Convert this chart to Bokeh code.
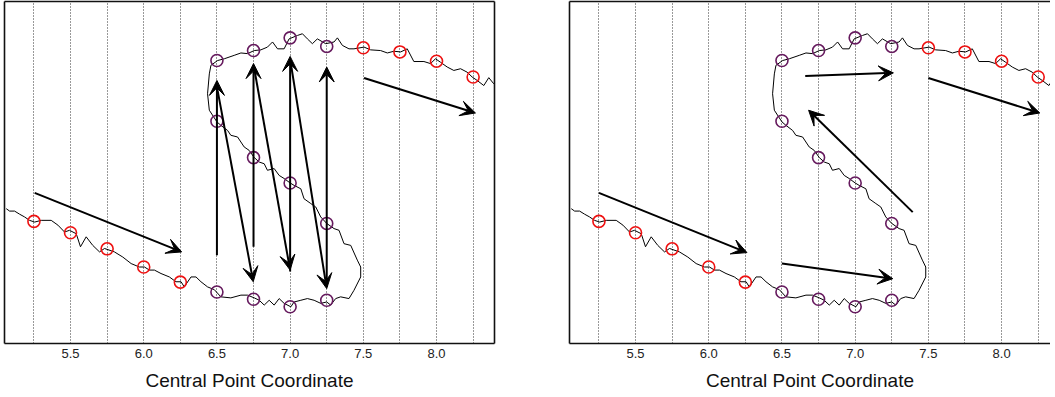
from bokeh.plotting import figure
from bokeh.models import Arrow, VeeHead, FixedTicker, LinearAxis, Range1d, ColumnDataSource
from bokeh.layouts import row
from bokeh.embed import file_html
from bokeh.resources import INLINE

# ---------------- data ----------------
curve_x = [5.061, 5.084, 5.118, 5.152, 5.186, 5.220, 5.255, 5.300, 5.368, 5.414, 5.459, 5.493,
           5.539, 5.568, 5.607, 5.652, 5.698, 5.732, 5.800, 5.857, 5.914, 5.970, 6.005, 6.039,
           6.073, 6.118, 6.175, 6.220, 6.255, 6.277, 6.323, 6.357, 6.391, 6.436, 6.482, 6.527,
           6.595, 6.664, 6.709, 6.755, 6.789, 6.823, 6.857, 6.891, 6.925, 6.959, 7.005, 7.027,
           7.073, 7.118, 7.164, 7.209, 7.250, 7.277, 7.311, 7.345, 7.402, 7.436, 7.482, 7.482,
           7.459, 7.414, 7.368, 7.334, 7.300, 7.250, 7.209, 7.175, 7.141, 7.095, 7.073, 7.027,
           7.000, 6.959, 6.925, 6.891, 6.845, 6.823, 6.789, 6.755, 6.720, 6.686, 6.641, 6.595,
           6.573, 6.527, 6.500, 6.448, 6.436, 6.448, 6.459, 6.505,
           6.550, 6.618, 6.664, 6.709, 6.755, 6.800, 6.845, 6.880, 6.914, 6.959, 6.993, 7.050,
           7.084, 7.118, 7.152, 7.186, 7.243, 7.300, 7.323, 7.357, 7.402, 7.436, 7.505, 7.550,
           7.618, 7.664, 7.709, 7.755, 7.800, 7.845, 7.914, 7.959, 7.993, 8.027, 8.073, 8.118,
           8.164, 8.209, 8.243, 8.277, 8.323, 8.357, 8.391]
curve_y = [3.93, 3.86, 3.86, 3.77, 3.69, 3.59, 3.54, 3.59, 3.59, 3.45, 3.25, 3.30,
           3.20, 2.82, 3.11, 2.86, 2.67, 2.77, 2.67, 2.52, 2.33, 2.23, 2.23, 2.14,
           2.14, 2.04, 1.94, 1.80, 1.80, 1.65, 1.94, 1.94, 1.80, 1.65, 1.57, 1.36,
           1.33, 1.41, 1.41, 1.33, 1.26, 1.12, 1.26, 1.12, 1.31, 1.17, 1.07, 1.21,
           1.26, 1.31, 1.26, 1.17, 1.21, 1.12, 1.31, 1.36, 1.31, 1.55, 1.94, 2.23,
           2.43, 2.86, 2.91, 3.30, 3.35, 3.50, 3.69, 3.98, 4.08, 4.22, 4.51, 4.61,
           4.68, 4.81, 4.90, 5.10, 5.05, 5.24, 5.29, 5.42, 5.63, 5.73, 6.02, 6.07,
           6.21, 6.36, 6.46, 6.80, 7.28, 7.86, 8.11, 8.25,
           8.30, 8.40, 8.47, 8.45, 8.54, 8.56, 8.64, 8.79, 8.59, 8.59, 8.88, 8.98,
           9.03, 8.88, 8.74, 8.88, 8.74, 8.79, 8.91, 8.69, 8.59, 8.59, 8.64, 8.56,
           8.54, 8.47, 8.52, 8.50, 8.59, 8.22, 8.22, 8.16, 8.30, 8.20, 8.06, 7.96,
           8.01, 7.91, 7.77, 7.67, 7.52, 7.75, 7.57]

red_x = [5.25, 5.5, 5.75, 6.0, 6.25, 7.5, 7.75, 8.0, 8.25]
red_y = [3.56, 3.23, 2.76, 2.23, 1.79, 8.62, 8.50, 8.23, 7.77]

purple_x = [6.5, 6.75, 7.0, 7.25, 6.5, 6.75, 7.0, 7.25, 6.5, 6.75, 7.0, 7.25]
purple_y = [1.50, 1.29, 1.07, 1.26, 6.48, 5.42, 4.68, 3.50, 8.25, 8.54, 8.91, 8.66]

left_arrow_x0 = [5.255, 7.505, 6.50, 6.50, 6.75, 6.755, 7.00, 7.005, 7.25]
left_arrow_y0 = [4.39, 7.74, 2.57, 7.48, 2.82, 8.01, 2.10, 8.16, 1.65]
left_arrow_x1 = [6.259, 8.266, 6.50, 6.748, 6.75, 7.000, 7.00, 7.250, 7.25]
left_arrow_y1 = [2.67, 6.72, 7.67, 1.80, 8.16, 2.14, 8.37, 1.60, 8.06]

right_arrow_x0 = [5.250, 6.500, 7.393, 6.659, 7.500]
right_arrow_y0 = [4.39, 2.33, 3.83, 7.80, 7.74]
right_arrow_x1 = [6.261, 7.257, 6.682, 7.261, 8.261]
right_arrow_y1 = [2.65, 1.89, 6.80, 7.89, 6.72]

tick_values = [5.5, 6.0, 6.5, 7.0, 7.5, 8.0]
tick_labels = ["5.5", "6.0", "6.5", "7.0", "7.5", "8.0"]
grid_values = [5.25, 5.5, 5.75, 6.0, 6.25, 6.5, 6.75, 7.0, 7.25, 7.5, 7.75, 8.0, 8.25]
axis_title = "Central Point Coordinate"

FONT = "Liberation Sans"
FRAME_COLOR = "#111111"
RED = "#ee1111"
PURPLE = "#661a5e"


def border_axis():
    return LinearAxis(ticker=FixedTicker(ticks=[]),
                      major_tick_line_color=None, minor_tick_line_color=None,
                      major_tick_out=0, minor_tick_out=0, major_label_standoff=0,
                      major_label_text_font_size="0px",
                      axis_line_color=FRAME_COLOR, axis_line_width=1.6)


def make_panel(xr, frame_w, ax0, ay0, ax1, ay1, mb_left, mb_right, right_border):
    p = figure(output_backend="svg", toolbar_location=None,
               frame_width=frame_w, frame_height=342,
               x_range=Range1d(*xr), y_range=Range1d(0, 9.97),
               x_axis_location=None, y_axis_location=None,
               min_border_left=mb_left, min_border_right=mb_right,
               min_border_top=1, min_border_bottom=0)
    p.outline_line_color = None
    p.background_fill_color = "white"
    p.border_fill_color = "white"

    p.add_layout(border_axis(), "left")
    p.add_layout(border_axis(), "above")
    if right_border:
        p.add_layout(border_axis(), "right")

    ax = LinearAxis(ticker=FixedTicker(ticks=tick_values))
    ax.major_label_overrides = {v: s for v, s in zip(tick_values, tick_labels)}
    ax.major_tick_line_color = None
    ax.minor_tick_line_color = None
    ax.major_tick_out = 0
    ax.minor_tick_out = 0
    ax.major_label_standoff = 5
    ax.axis_line_color = FRAME_COLOR
    ax.axis_line_width = 1.6
    ax.major_label_text_font = FONT
    ax.major_label_text_font_size = "13px"
    ax.major_label_text_color = "#222222"
    ax.axis_label = axis_title
    ax.axis_label_text_font = FONT
    ax.axis_label_text_font_size = "19px"
    ax.axis_label_text_font_style = "normal"
    ax.axis_label_text_color = "#111111"
    ax.axis_label_standoff = 9
    p.add_layout(ax, "below")

    p.xgrid.ticker = FixedTicker(ticks=grid_values)
    p.xgrid.grid_line_color = "#333333"
    p.xgrid.grid_line_dash = "1 2"
    p.xgrid.grid_line_width = 1
    p.ygrid.visible = False

    p.line(curve_x, curve_y, line_color="black", line_width=1)
    p.scatter(red_x, red_y, marker="circle", size=12, fill_color=None,
              line_color=RED, line_width=1.6)
    p.scatter(purple_x, purple_y, marker="circle", size=12, fill_color=None,
              line_color=PURPLE, line_width=1.6)

    src = ColumnDataSource(dict(x0=ax0, y0=ay0, x1=ax1, y1=ay1))
    p.add_layout(Arrow(end=VeeHead(size=15, fill_color="black", line_color="black",
                                   line_width=1),
                       x_start="x0", y_start="y0", x_end="x1", y_end="y1",
                       source=src, line_color="black", line_width=2))
    return p


p1 = make_panel((5.049, 8.396), 490, left_arrow_x0, left_arrow_y0, left_arrow_x1,
                left_arrow_y1, 4, 37, True)
p2 = make_panel((5.049, 8.334), 481, right_arrow_x0, right_arrow_y0, right_arrow_x1,
                right_arrow_y1, 38, 0, False)

layout = row(p1, p2)
open("out.html", "w").write(file_html(layout, INLINE))
